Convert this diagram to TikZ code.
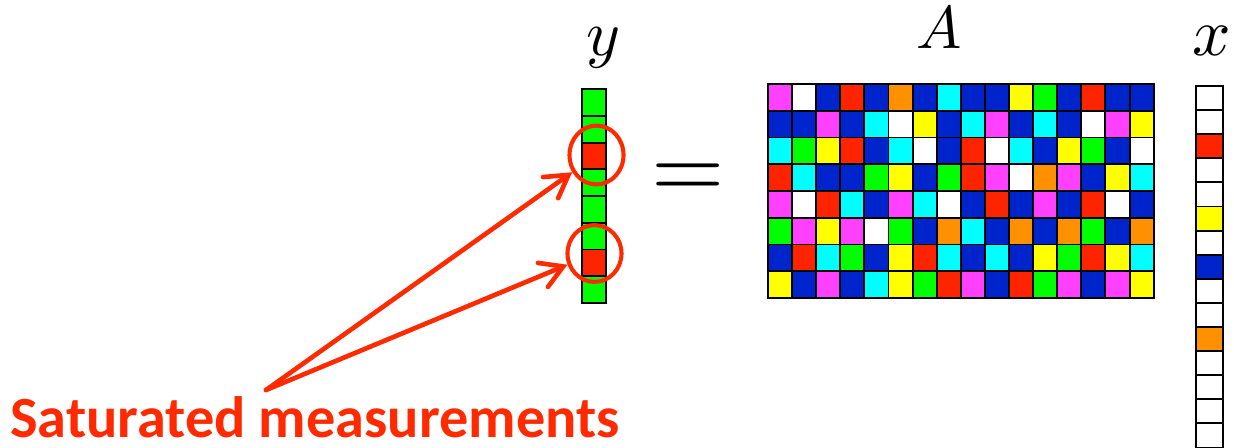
\documentclass[tikz,border=0pt]{standalone}
\usepackage{fontspec}
\usepackage{graphicx}
\usepackage{xcolor}
\usetikzlibrary{arrows.meta,shapes.geometric}
\newfontfamily\calloutfont{Carlito}

\definecolor{mag}{HTML}{FF40FF}
\definecolor{wht}{HTML}{FFFFFF}
\definecolor{blu}{HTML}{0024CC}
\definecolor{red}{HTML}{FF2400}
\definecolor{org}{HTML}{FF9000}
\definecolor{cyn}{HTML}{00FFFF}
\definecolor{yel}{HTML}{FFFF00}
\definecolor{grn}{HTML}{00FF00}
\definecolor{callred}{HTML}{FF2A00}

\begin{document}
\begin{tikzpicture}[x=0.025cm, y=-0.025cm,
  cell/.style={draw=black, line width=1.4pt},
  ring/.style={ellipse, draw=callred, line width=2.9pt, inner sep=0pt,
    minimum width=1.35cm, minimum height=1.47cm},
  mathlbl/.style={anchor=base, inner sep=0pt},
  arr/.style={-{Straight Barb[length=5.5mm, width=6.5mm, line cap=round]},
    line width=3.3pt, line cap=round, draw=callred}
]
\useasboundingbox (0,0) rectangle (1234,447);

% matrix A, row by row
\foreach \row [count=\r] in {
  {mag,wht,blu,red,blu,org,blu,cyn,blu,blu,yel,grn,blu,red,blu,blu},
  {blu,blu,mag,blu,cyn,wht,yel,blu,cyn,mag,blu,cyn,blu,wht,mag,yel},
  {cyn,grn,yel,red,blu,cyn,wht,blu,red,wht,cyn,blu,yel,grn,blu,wht},
  {red,cyn,blu,blu,grn,yel,blu,grn,red,mag,wht,org,mag,blu,yel,cyn},
  {mag,wht,red,cyn,blu,mag,cyn,wht,blu,red,blu,mag,blu,red,wht,blu},
  {grn,mag,yel,mag,wht,grn,blu,org,cyn,blu,org,blu,org,grn,blu,org},
  {blu,red,cyn,grn,blu,yel,red,cyn,blu,cyn,blu,yel,grn,red,yel,cyn},
  {yel,blu,mag,blu,cyn,yel,grn,red,mag,blu,red,grn,mag,blu,mag,yel}}
  \foreach \c [count=\k] in \row
    \draw[cell, fill=\c] ({768+24.1*(\k-1)},{84+26.75*(\r-1)}) rectangle ++(24.1,26.75);

% vector y
\foreach \c [count=\k] in {grn,grn,red,grn,grn,grn,red,grn}
  \draw[cell, fill=\c] (582,{89.3+26.7*(\k-1)}) rectangle ++(24,26.7);

% vector x (runs off the bottom)
\begin{scope}
  \clip (0,0) rectangle (1234,447);
  \foreach \c [count=\k] in {wht,wht,red,wht,wht,yel,wht,blu,wht,wht,org,wht,wht,wht,wht,wht}
    \draw[cell, fill=\c] (1196,{86+24.1*(\k-1)}) rectangle ++(27,24.1);
\end{scope}

\node[mathlbl] (ylab) at (604,55) {\scalebox{4.6}{$y$}};
\node[mathlbl] (alab) at (939,48) {\scalebox{4.3}{$A$}};
\node[mathlbl] (xlab) at (1212,55) {\scalebox{4.8}{$x$}};
\node[mathlbl] (eq) at (688.5,198.5) {\scalebox{6.7}{$=$}};

% circled saturated entries
\node[ring] (c1) at (596.5,155) {};
\node[ring, minimum height=1.42cm] (c2) at (594.5,253.5) {};

\node[anchor=base west, inner sep=0pt, text depth=0pt, text=callred,
  font=\calloutfont\bfseries\fontsize{41.5}{41.5}\selectfont] (sat) at (10,437)
  {Saturated measurements};
\coordinate (tail) at (266,390);

\draw[arr] (tail) -- (c1);
\draw[arr] (tail) -- (c2);

\end{tikzpicture}
\end{document}
